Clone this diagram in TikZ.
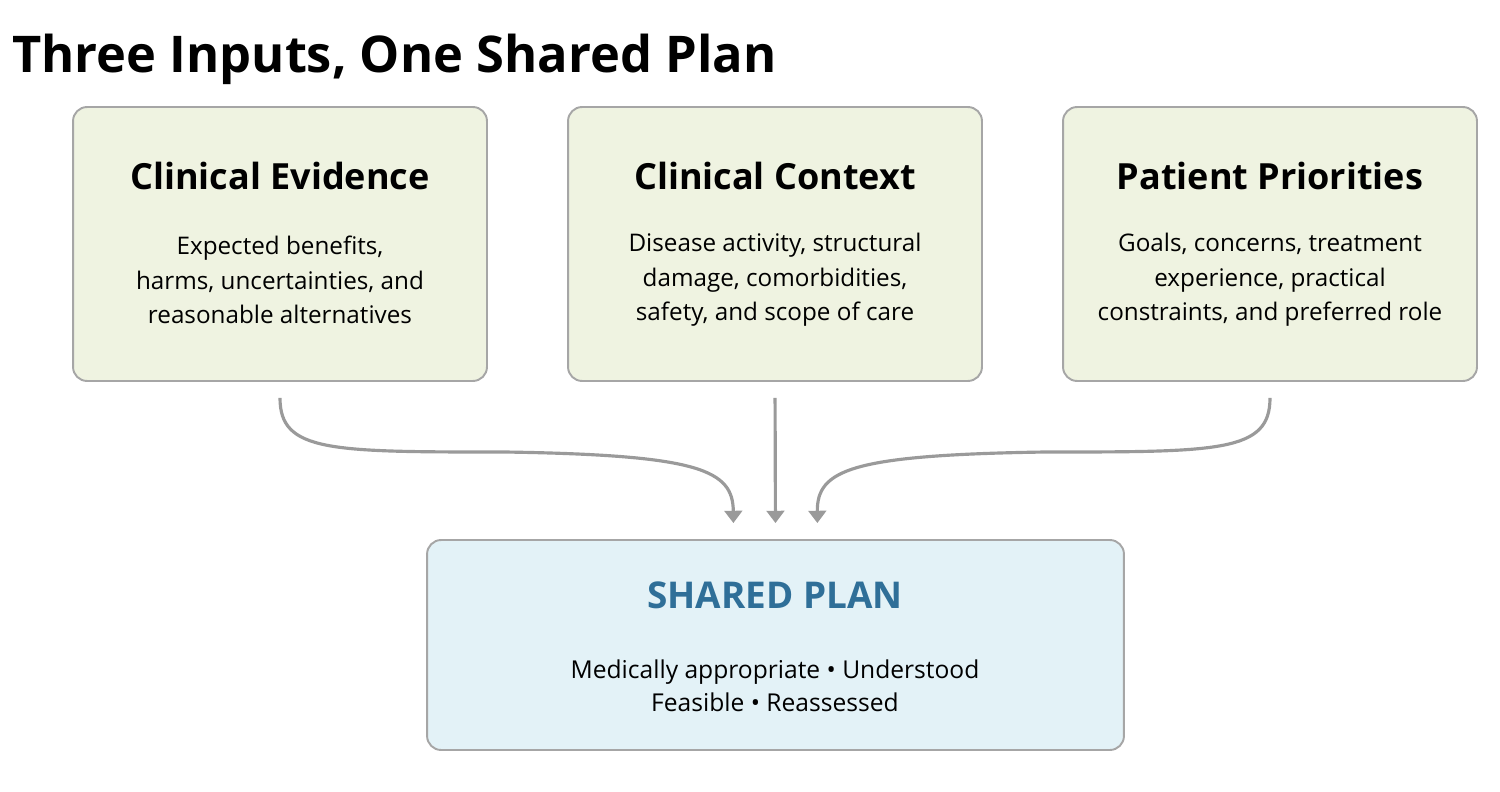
\documentclass[tikz,border=0pt]{standalone}
\usepackage{fontspec}
\setmainfont{Open Sans}
\usepackage{tikz}
\usetikzlibrary{arrows.meta, positioning, calc}
\definecolor{inputfill}{HTML}{EFF3E1}
\definecolor{planfill}{HTML}{E3F2F7}
\definecolor{edgegray}{HTML}{A6A6A6}
\definecolor{flowgray}{HTML}{9A9A9A}
\definecolor{planblue}{HTML}{2F6F98}

\begin{document}
\begin{tikzpicture}[
    x=0.02cm, y=-0.02cm,
    inputbox/.style={draw=edgegray, line width=1.1pt, fill=inputfill, minimum width=8.28cm, minimum height=5.48cm, rounded corners=8pt},
    planbox/.style={draw=edgegray, line width=1.1pt, fill=planfill, minimum width=13.94cm, minimum height=4.2cm, rounded corners=8pt},
    heading/.style={font=\fontsize{20.5}{24}\selectfont\bfseries, anchor=base},
    detail/.style={font=\fontsize{13.8}{19.6}\selectfont, align=center},
    flow/.style={-{Triangle[width=10pt, length=7pt]}, draw=flowgray, line width=1.8pt, shorten <=0.32cm, shorten >=0.32cm}
]
    \useasboundingbox (0,0) rectangle (1500,791);

    % Title
    \node[anchor=base west, inner sep=0pt, font=\fontsize{28.8}{34}\selectfont\bfseries] (title) at (12,72) {Three Inputs, One Shared Plan};

    % Input boxes
    \node[inputbox] (evidence) at (280,244) {};
    \node[inputbox] (context) at (775,244) {};
    \node[inputbox] (priorities) at (1270,244) {};

    \node[heading] (evidenceT) at (280,189) {Clinical Evidence};
    \node[heading] (contextT) at (775,189) {Clinical Context};
    \node[heading] (prioritiesT) at (1270,189) {Patient Priorities};

    \node[detail] (evidenceD) at (280,280) {Expected benefits,\\harms, uncertainties, and\\reasonable alternatives};
    \node[detail] (contextD) at (775,280) {Disease activity, structural\\damage, comorbidities,\\safety, and scope of care};
    \node[detail] (prioritiesD) at (1270,280) {Goals, concerns, treatment\\experience, practical\\constraints, and preferred role};

    % Shared plan
    \node[planbox] (plan) at (775.5,645) {};
    \node[heading, text=planblue, font=\fontsize{21}{24}\selectfont\bfseries] (planT) at (775,608) {SHARED PLAN};
    \node[detail, font=\fontsize{14}{18.8}\selectfont] (planD) at (775,686) {Medically appropriate \textbullet{} Understood\\Feasible \textbullet{} Reassessed};

    % Converging arrows
    \coordinate (inL) at ([xshift=-0.84cm]plan.north);
    \coordinate (inR) at ([xshift=0.84cm]plan.north);
    \draw[flow] (evidence.south) .. controls (280,452) and (330,452) .. (505,452) .. controls (700,455) and (733,470) .. (inL);
    \draw[flow] (context.south) -- (plan.north);
    \draw[flow] (priorities.south) .. controls (1270,452) and (1220,452) .. (1045,452) .. controls (850,455) and (817,470) .. (inR);
\end{tikzpicture}
\end{document}
